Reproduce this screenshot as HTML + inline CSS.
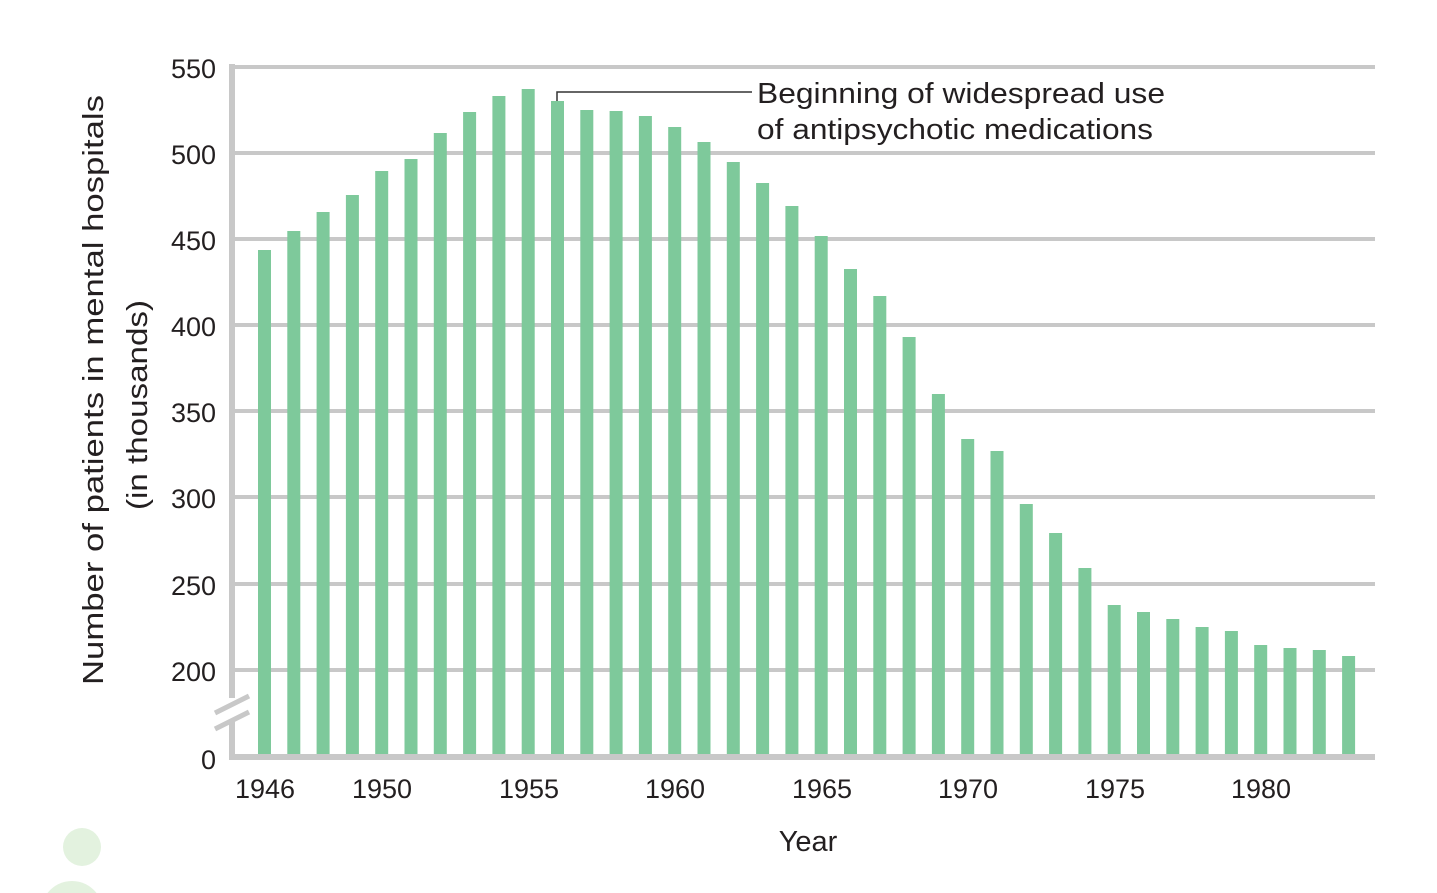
<!DOCTYPE html>
<html><head><meta charset="utf-8"><style>html,body{margin:0;padding:0;background:#fff;overflow:hidden;width:1437px;height:893px}svg{display:block}</style></head>
<body>
<svg width="1437" height="893" viewBox="0 0 1437 893" xmlns="http://www.w3.org/2000/svg" font-family="Liberation Sans, sans-serif" fill="#231f20">
<path d="M47.5,893 A31,31 0 0 1 96.5,893 Z" fill="#e3f2df"/>
<circle cx="82" cy="847" r="19" fill="#e3f2df"/>
<g stroke="#c8c8c8" stroke-width="4">
<line x1="232" y1="67" x2="1375" y2="67"/>
<line x1="232" y1="153" x2="1375" y2="153"/>
<line x1="232" y1="239" x2="1375" y2="239"/>
<line x1="232" y1="325" x2="1375" y2="325"/>
<line x1="232" y1="411" x2="1375" y2="411"/>
<line x1="232" y1="497" x2="1375" y2="497"/>
<line x1="232" y1="584" x2="1375" y2="584"/>
<line x1="232" y1="670" x2="1375" y2="670"/>
</g>
<g stroke="#c8c8c8" stroke-width="6">
<line x1="232" y1="64" x2="232" y2="698"/>
<line x1="232" y1="720" x2="232" y2="760"/>
<line x1="229" y1="757" x2="1375" y2="757"/>
</g>
<g stroke="#c8c8c8" stroke-width="5">
<line x1="215" y1="713" x2="249" y2="696"/>
<line x1="215" y1="729" x2="249" y2="712"/>
</g>
<g fill="#7ec99b" id="bars"></g>
<polyline points="557,101 557,92 752,92" fill="none" stroke="#333" stroke-width="1.5"/>
<text x="757" y="103" font-size="29" textLength="408" lengthAdjust="spacingAndGlyphs">Beginning of widespread use</text>
<text x="757" y="139" font-size="29" textLength="396" lengthAdjust="spacingAndGlyphs">of antipsychotic medications</text>
<g font-size="27" text-anchor="end">
<text x="216" y="78">550</text><text x="216" y="164">500</text><text x="216" y="250">450</text>
<text x="216" y="336">400</text><text x="216" y="422">350</text><text x="216" y="508">300</text>
<text x="216" y="595">250</text><text x="216" y="681">200</text><text x="216" y="769">0</text>
</g>
<g font-size="27" text-anchor="middle">
<text x="265" y="798">1946</text><text x="382" y="798">1950</text><text x="529" y="798">1955</text>
<text x="675" y="798">1960</text><text x="822" y="798">1965</text><text x="968" y="798">1970</text>
<text x="1115" y="798">1975</text><text x="1261" y="798">1980</text>
</g>
<text x="808" y="851" font-size="29" text-anchor="middle">Year</text>
<g transform="translate(103,390) rotate(-90)" font-size="29" text-anchor="middle">
<text x="0" y="0" textLength="590" lengthAdjust="spacingAndGlyphs">Number of patients in mental hospitals</text>
<text x="-15" y="44" textLength="210" lengthAdjust="spacingAndGlyphs">(in thousands)</text>
</g>
</svg>
<script>
var tops=[250,231,212,195,171,159,133,112,96,89,101,110,111,116,127,142,162,183,206,236,269,296,337,394,439,451,504,533,568,605,612,619,627,631,645,648,650,656];
var g=document.getElementById('bars'),s='';
for(var i=0;i<tops.length;i++){var x=258+i*29.3;s+='<rect x="'+x.toFixed(1)+'" y="'+tops[i]+'" width="13" height="'+(754-tops[i])+'"/>';}
g.innerHTML=s;
</script>
</body></html>
